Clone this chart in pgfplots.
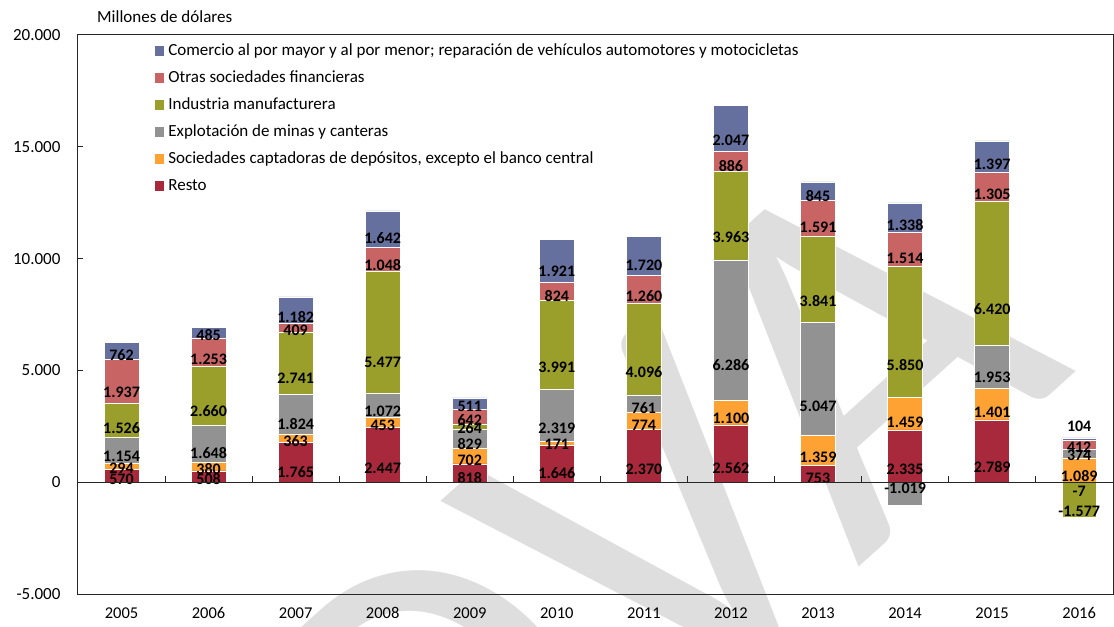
\documentclass[border=0pt]{standalone}
\usepackage{pgfplots}
\pgfplotsset{compat=1.18}
\usepackage{pgfplotstable}
\usepackage{fontspec}
\setmainfont{Carlito}
\newfontfamily\wmfont{Carlito}

\definecolor{cCom}{RGB}{102,112,158}
\definecolor{cOtr}{RGB}{200,100,100}
\definecolor{cInd}{RGB}{154,158,42}
\definecolor{cMin}{RGB}{146,146,146}
\definecolor{cSoc}{RGB}{255,162,52}
\definecolor{cRes}{RGB}{168,40,60}

% millones de dolares; comdy = corrimiento de la etiqueta de Comercio
\pgfplotstableread{
x  resto soc  minas ind   otras com  comdy
0  570   294  1154  1526  1937  762  0
1  508   380  1648  2660  1253  485  0
2  1765  363  1824  2741  409   1182 0
3  2447  453  1072  5477  1048  1642 0
4  818   702  829   264   642   511  0
5  1646  171  2319  3991  824   1921 0
6  2370  774  761   4096  1260  1720 0
7  2562  1100 6286  3963  886   2047 0
8  753   1359 5047  3841  1591  845  0
9  2335  1459 -1019 5850  1514  1338 0
10 2789  1401 1953  6420  1305  1397 0
11 -7    1089 374   -1577 412   104  13
}\datos

\newcommand\lbl{\fontsize{16bp}{18bp}\selectfont\bfseries}
\newcommand\tck{\fontsize{17bp}{20bp}\selectfont}

% 559bp de alto para 25000 -> 0.02236 bp por unidad
% (el corrimiento se aplica dos veces, de ahi 0.00559)
\pgfplotsset{
  base/.style={
    scale only axis, width=1036bp, height=559bp,
    xmin=-0.5, xmax=11.4, ymin=-5000, ymax=20000,
    ybar stacked, bar width=0.4,
    /pgf/number format/1000 sep={.},
    /pgf/number format/assume math mode=true,
    scaled y ticks=false,
  },
  seg/.style n args={3}{fill=#1, draw=white, line width=0.5bp, forget plot,
    visualization depends on={\thisrow{#2} \as \rawv},
    nodes near coords={\pgfmathfloatifflags{\pgfplotspointmeta}{0}{}{\pgfmathprintnumber{\pgfplotspointmeta}}},
    every node near coord/.style={anchor=center, inner sep=0pt, font=\lbl,
      yshift={-0.00559*\rawv*1bp}, #3},
  },
}

\begin{document}
\begin{tikzpicture}
\node[rotate=42, anchor=base east, inner sep=0pt, text=black!13,
  font=\wmfont\fontsize{512bp}{512bp}\selectfont] at (1000bp,224bp) {DVA};

\begin{axis}[base,
  axis line style={black!85, line width=1bp},
  xtick={0,...,11},
  xticklabels={2005,2006,2007,2008,2009,2010,2011,2012,2013,2014,2015,2016},
  xtick style={draw=none},
  x tick label style={font=\fontsize{16.5bp}{18bp}\selectfont, yshift=-10bp},
  ytick={-5000,0,5000,10000,15000,20000},
  ytick pos=left, tick align=inside, major tick length=5bp,
  ytick style={black!85, line width=1bp},
  y tick label style={font=\tck, xshift=-14bp},
  legend style={at={(axis description cs:0.0739,0.99)}, anchor=north west,
    draw=none, fill=none, inner sep=0pt, row sep=7bp,
    font=\fontsize{17bp}{20bp}\selectfont,
    nodes={inner xsep=4bp, inner ysep=2.5bp, text height=12bp, text depth=3bp},
    cells={anchor=west}},
  legend image code/.code={\path[#1, draw=none] (0bp,-4.8bp) rectangle (9.6bp,4.8bp);},
]
\addplot[seg={cRes}{resto}{}] table[x=x, y expr={max(\thisrow{resto},0)}] {\datos};
\addplot[seg={cSoc}{soc}{}] table[x=x, y expr={max(\thisrow{soc},0)}] {\datos};
\addplot[seg={cMin}{minas}{}] table[x=x, y expr={max(\thisrow{minas},0)}] {\datos};
\addplot[seg={cInd}{ind}{}] table[x=x, y expr={max(\thisrow{ind},0)}] {\datos};
\addplot[seg={cOtr}{otras}{}] table[x=x, y expr={max(\thisrow{otras},0)}] {\datos};
\addplot[seg={cCom}{com}{yshift=\cdy bp},
  visualization depends on={\thisrow{comdy} \as \cdy}]
  table[x=x, y expr={max(\thisrow{com},0)}] {\datos};

\addlegendimage{fill=cCom}
\addlegendentry{Comercio al por mayor y al por menor; reparación de vehículos automotores y motocicletas}
\addlegendimage{fill=cOtr}
\addlegendentry{Otras sociedades financieras}
\addlegendimage{fill=cInd}
\addlegendentry{Industria manufacturera}
\addlegendimage{fill=cMin}
\addlegendentry{Explotación de minas y canteras}
\addlegendimage{fill=cSoc}
\addlegendentry{Sociedades captadoras de depósitos, excepto el banco central}
\addlegendimage{fill=cRes}
\addlegendentry{Resto}
\end{axis}

% parte negativa de cada serie, con la linea del cero
\begin{axis}[base,
  axis x line*=middle, axis y line=none,
  axis line style={black!85, line width=1bp},
  xtick={0.5,1.5,2.5,3.5,4.5,5.5,6.5,7.5,8.5,9.5,10.5}, xticklabels={},
  ytick=\empty,
  tick align=inside, major tick length=6bp,
  xtick style={black!85, line width=1bp},
  axis on top,
]
\addplot[seg={cRes}{resto}{yshift=-9bp}] table[x=x, y expr={min(\thisrow{resto},0)}] {\datos};
\addplot[seg={cMin}{minas}{}] table[x=x, y expr={min(\thisrow{minas},0)}] {\datos};
\addplot[seg={cInd}{ind}{yshift=-20bp}] table[x=x, y expr={min(\thisrow{ind},0)}] {\datos};
\end{axis}

\node[anchor=base west, inner sep=0pt, font=\tck] at (19bp,571bp) {Millones de dólares};

\pgfresetboundingbox
\path[use as bounding box] (-78bp,-33bp) rectangle (1036bp,594bp);
\end{tikzpicture}
\end{document}
